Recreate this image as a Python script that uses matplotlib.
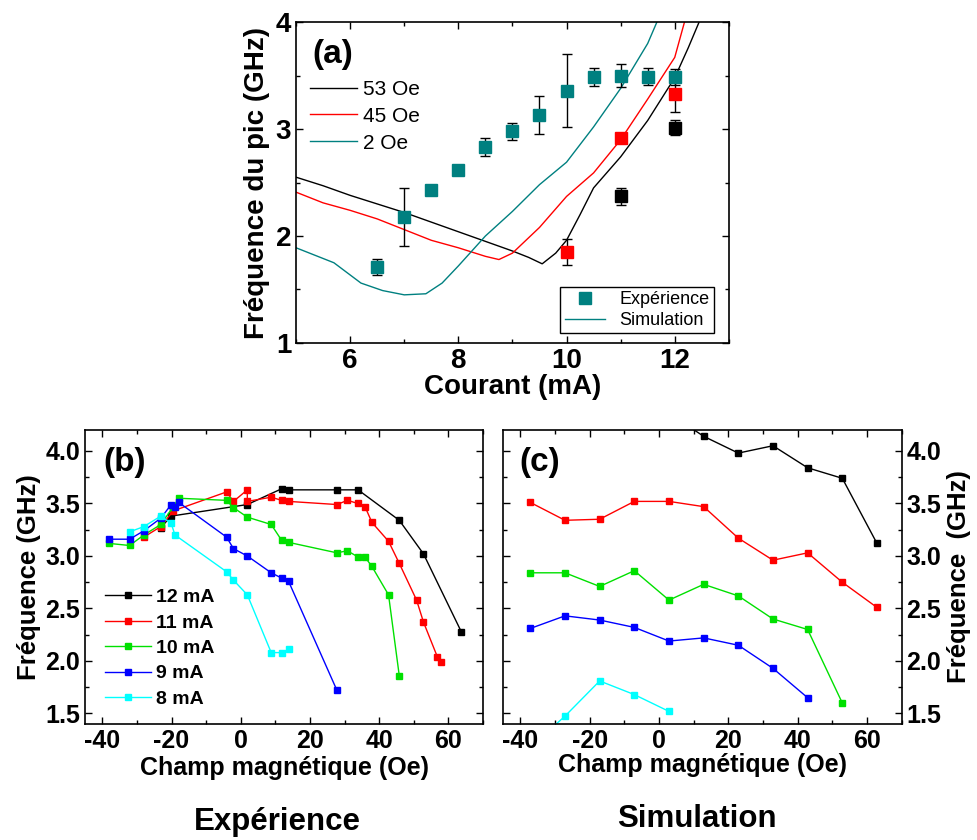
import matplotlib
matplotlib.use("Agg")
import matplotlib.pyplot as plt
from matplotlib.ticker import MultipleLocator, FormatStrFormatter

plt.rcParams["font.family"] = ["Liberation Sans", "DejaVu Sans"]
plt.rcParams["axes.unicode_minus"] = False

TEAL = "#008080"

# ---- (a) peak frequency vs current ----
exp_I = [6.5, 7.0, 7.5, 8.0, 8.5, 9.0, 9.5, 10.0, 10.5, 11.0, 11.5, 12.0]
exp_f = [1.71, 2.18, 2.43, 2.62, 2.83, 2.98, 3.13, 3.36, 3.49, 3.50, 3.49, 3.49]
exp_err = [0.075, 0.27, 0.05, 0.04, 0.085, 0.08, 0.18, 0.34, 0.085, 0.105, 0.08, 0.075]

exp45_I = [10.0, 11.0, 12.0]
exp45_f = [1.85, 2.92, 3.33]
exp45_err = [0.125, 0.04, 0.17]

exp53_I = [11.0, 12.0]
exp53_f = [2.37, 3.01]
exp53_err = [0.08, 0.07]

sim53_I = [5.0, 5.5, 6.0, 6.5, 7.0, 7.5, 8.0, 8.5, 9.0, 9.3, 9.55, 9.8, 10.0,
           10.25, 10.5, 11.0, 11.5, 12.0, 12.25, 12.45]
sim53_f = [2.55, 2.47, 2.38, 2.30, 2.22, 2.13, 2.04, 1.95, 1.86, 1.80, 1.74, 1.84,
           1.96, 2.20, 2.45, 2.74, 3.08, 3.48, 3.76, 4.0]

sim45_I = [5.0, 5.5, 6.0, 6.5, 7.0, 7.5, 8.0, 8.5, 8.75, 9.0, 9.5, 10.0, 10.5,
           11.0, 11.5, 12.0, 12.18]
sim45_f = [2.41, 2.31, 2.24, 2.16, 2.06, 1.96, 1.89, 1.81, 1.78, 1.84, 2.08, 2.37,
           2.59, 2.90, 3.28, 3.67, 4.0]

sim2_I = [5.0, 5.7, 6.2, 6.6, 7.0, 7.4, 7.7, 8.0, 8.5, 9.0, 9.5, 10.0, 10.5,
          11.0, 11.5, 11.67]
sim2_f = [1.89, 1.75, 1.56, 1.49, 1.45, 1.46, 1.56, 1.72, 2.00, 2.23, 2.48, 2.69,
          3.02, 3.38, 3.80, 4.0]

# ---- (b) experiment: frequency vs field ----
labels = ["12 mA", "11 mA", "10 mA", "9 mA", "8 mA"]
colors = ["black", "red", "#00e000", "blue", "cyan"]

exp_H = [
    [-23.1, -20.1, 1.9, 11.8, 13.8, 27.8, 33.9, 45.8, 52.8, 63.7],
    [-28.0, -23.1, -19.5, -4.1, -2.1, 1.9, 1.9, 8.8, 11.8, 13.8, 27.8, 30.8,
     33.9, 35.9, 37.9, 42.7, 45.8, 50.8, 52.8, 56.8, 57.8],
    [-38.1, -32.1, -28.0, -23.1, -19.5, -17.9, -4.1, -2.1, 1.9, 8.8, 11.8, 13.8,
     27.8, 30.8, 33.9, 35.9, 37.9, 42.7, 45.8],
    [-38.1, -32.1, -28.0, -23.1, -20.1, -19.0, -17.9, -4.1, -2.1, 1.9, 8.8, 11.8,
     13.8, 27.8],
    [-32.1, -28.0, -23.1, -20.1, -19.0, -4.1, -2.1, 1.9, 8.8, 11.8, 13.8],
]
exp_F = [
    [3.27, 3.38, 3.49, 3.64, 3.63, 3.63, 3.63, 3.34, 3.02, 2.28],
    [3.18, 3.28, 3.43, 3.61, 3.52, 3.63, 3.52, 3.56, 3.53, 3.52, 3.49, 3.53,
     3.50, 3.47, 3.32, 3.14, 2.93, 2.58, 2.37, 2.04, 1.99],
    [3.12, 3.10, 3.20, 3.30, 3.47, 3.55, 3.53, 3.46, 3.37, 3.30, 3.15, 3.13,
     3.03, 3.05, 2.99, 2.99, 2.90, 2.63, 1.86],
    [3.16, 3.16, 3.24, 3.36, 3.49, 3.47, 3.51, 3.18, 3.07, 3.00, 2.84, 2.79,
     2.76, 1.72],
    [3.23, 3.28, 3.38, 3.31, 3.20, 2.85, 2.77, 2.63, 2.08, 2.08, 2.11],
]

# ---- (c) simulation: frequency vs field ----
sim_H = [
    [2.9, 12.9, 22.9, 32.9, 42.9, 52.9, 62.9],
    [-37.1, -27.1, -17.1, -7.1, 2.9, 12.9, 22.9, 32.9, 42.9, 52.9, 62.9],
    [-37.1, -27.1, -17.1, -7.1, 2.9, 12.9, 22.9, 32.9, 42.9, 52.9],
    [-37.1, -27.1, -17.1, -7.1, 2.9, 12.9, 22.9, 32.9, 42.9],
    [-37.1, -27.1, -17.1, -7.1, 2.9],
]
sim_F = [
    [4.36, 4.14, 3.98, 4.05, 3.84, 3.74, 3.12],
    [3.51, 3.34, 3.35, 3.52, 3.52, 3.47, 3.17, 2.96, 3.03, 2.75, 2.51],
    [2.84, 2.84, 2.71, 2.86, 2.58, 2.73, 2.62, 2.40, 2.30, 1.60],
    [2.31, 2.43, 2.39, 2.32, 2.19, 2.22, 2.15, 1.93, 1.65],
    [1.18, 1.475, 1.81, 1.68, 1.52],
]

fig = plt.figure(figsize=(9.77, 8.4), dpi=100)


def style_ticks(ax, size):
    ax.tick_params(which="both", direction="in", top=True, right=True,
                   left=True, bottom=True, width=1.0)
    ax.tick_params(which="major", length=5, labelsize=size)
    ax.tick_params(which="minor", length=3)
    for lab in ax.get_xticklabels() + ax.get_yticklabels():
        lab.set_fontweight("bold")
    for sp in ax.spines.values():
        sp.set_linewidth(1.2)


# panel (a)
axa = fig.add_axes([0.303, 0.5917, 0.443, 0.382])
l1, = axa.plot(sim53_I, sim53_f, color="black", lw=1.0, label="53 Oe")
l2, = axa.plot(sim45_I, sim45_f, color="red", lw=1.0, label="45 Oe")
l3, = axa.plot(sim2_I, sim2_f, color=TEAL, lw=1.0, label="2 Oe")
for xs, ys, es, c in [(exp_I, exp_f, exp_err, TEAL),
                      (exp45_I, exp45_f, exp45_err, "red"),
                      (exp53_I, exp53_f, exp53_err, "black")]:
    axa.errorbar(xs, ys, yerr=es, fmt="none", ecolor="black", elinewidth=1.0,
                 capsize=3.5, capthick=1.0, zorder=3)
    axa.plot(xs, ys, "s", color=c, ms=8.5, zorder=4)
axa.set_xlim(5, 13)
axa.set_ylim(1, 4)
axa.xaxis.set_major_locator(MultipleLocator(2))
axa.xaxis.set_minor_locator(MultipleLocator(1))
axa.yaxis.set_major_locator(MultipleLocator(1))
axa.yaxis.set_minor_locator(MultipleLocator(0.5))
style_ticks(axa, 20)
axa.set_xlabel("Courant (mA)", fontsize=20, fontweight="bold", labelpad=0)
axa.set_ylabel("Fréquence du pic (GHz)", fontsize=20, fontweight="bold", labelpad=4)
axa.text(0.037, 0.9, "(a)", transform=axa.transAxes, fontsize=24,
         fontweight="bold", va="center", ha="left")
leg1 = axa.legend(handles=[l1, l2, l3], loc="upper left",
                  bbox_to_anchor=(0.033, 0.82), frameon=False, fontsize=15,
                  handlelength=2.25, handletextpad=0.3, labelspacing=0.38,
                  borderpad=0, borderaxespad=0)
axa.add_artist(leg1)
h_exp, = axa.plot([], [], "s", color=TEAL, ms=8.5, label="Expérience")
h_sim, = axa.plot([], [], color=TEAL, lw=1.0, label="Simulation")
leg2 = axa.legend(handles=[h_exp, h_sim], loc="lower right",
                  bbox_to_anchor=(0.965, 0.03), fontsize=13, fancybox=False,
                  edgecolor="black", framealpha=1, handlelength=2.2,
                  borderpad=0.25, labelspacing=0.2, borderaxespad=0)
leg2.get_frame().set_linewidth(1.0)

# panel (b)
axb = fig.add_axes([0.087, 0.1381, 0.4074, 0.35])
hb = []
for xs, ys, c, lab in zip(exp_H, exp_F, colors, labels):
    h, = axb.plot(xs, ys, "-s", color=c, lw=1.0, ms=5, label=lab)
    hb.append(h)
axb.set_xlim(-45, 70)
axb.set_ylim(1.4, 4.2)
axb.xaxis.set_major_locator(MultipleLocator(20))
axb.xaxis.set_minor_locator(MultipleLocator(10))
axb.yaxis.set_major_locator(MultipleLocator(0.5))
axb.yaxis.set_minor_locator(MultipleLocator(0.25))
axb.yaxis.set_major_formatter(FormatStrFormatter("%.1f"))
style_ticks(axb, 18)
axb.set_xlabel("Champ magnétique (Oe)", fontsize=18, fontweight="bold", labelpad=2)
axb.set_ylabel("Fréquence (GHz)", fontsize=18.5, fontweight="bold", labelpad=3)
axb.text(0.045, 0.89, "(b)", transform=axb.transAxes, fontsize=24,
         fontweight="bold", va="center", ha="left")
leg = axb.legend(handles=hb, loc="lower left", bbox_to_anchor=(0.05, 0.055),
                 frameon=False, handlelength=2.35, handletextpad=0.3,
                 labelspacing=0.4, borderpad=0, borderaxespad=0,
                 prop={"size": 14, "weight": "bold"})

# panel (c)
axc = fig.add_axes([0.5148, 0.1381, 0.408, 0.35])
for xs, ys, c in zip(sim_H, sim_F, colors):
    axc.plot(xs, ys, "-s", color=c, lw=1.0, ms=5)
axc.set_xlim(-45, 70)
axc.set_ylim(1.4, 4.2)
axc.xaxis.set_major_locator(MultipleLocator(20))
axc.xaxis.set_minor_locator(MultipleLocator(10))
axc.yaxis.set_major_locator(MultipleLocator(0.5))
axc.yaxis.set_minor_locator(MultipleLocator(0.25))
axc.yaxis.set_major_formatter(FormatStrFormatter("%.1f"))
axc.yaxis.tick_right()
axc.yaxis.set_label_position("right")
style_ticks(axc, 18)
axc.tick_params(which="both", labelleft=False, labelright=True)
axc.set_xlabel("Champ magnétique (Oe)", fontsize=18, fontweight="bold", labelpad=0)
axc.set_ylabel("Fréquence  (GHz)", fontsize=18.5, fontweight="bold",
               rotation=90, labelpad=4)
axc.text(0.04, 0.89, "(c)", transform=axc.transAxes, fontsize=24,
         fontweight="bold", va="center", ha="left")

fig.text(277 / 977, 1 - 822 / 840, "Expérience", fontsize=22.5, fontweight="bold",
         ha="center", va="center")
fig.text(697 / 977, 1 - 819 / 840, "Simulation", fontsize=22.5, fontweight="bold",
         ha="center", va="center")

fig.savefig("out.png", dpi=100)
